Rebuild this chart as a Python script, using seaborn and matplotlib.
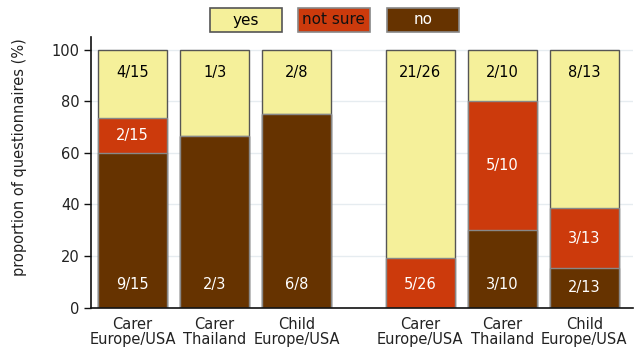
import matplotlib
matplotlib.use("Agg")
import matplotlib.pyplot as plt
import seaborn as sns
import pandas as pd
import numpy as np

groups = ["Carer\nEurope/USA", "Carer\nThailand", "Child\nEurope/USA",
          "Carer\nEurope/USA", "Carer\nThailand", "Child\nEurope/USA"]
positions = [0, 1, 2, 3.5, 4.5, 5.5]
yes_n = [4, 1, 2, 21, 2, 8]
notsure_n = [2, 0, 0, 5, 5, 3]
no_n = [9, 2, 6, 0, 3, 2]
totals = [15, 3, 8, 26, 10, 13]
legend_labels = ["yes", "not sure", "no"]

c_yes = "#F5F09A"
c_ns = "#CC3A0C"
c_no = "#663300"

sns.set_theme(style="white")
plt.rcParams['font.family'] = ['DejaVu Sans']

yes_p = np.array(yes_n) / np.array(totals) * 100
ns_p = np.array(notsure_n) / np.array(totals) * 100
no_p = np.array(no_n) / np.array(totals) * 100

df = pd.DataFrame({"pos": positions,
                   "top": yes_p + ns_p + no_p,
                   "mid": ns_p + no_p,
                   "low": no_p})

fig = plt.figure(figsize=(6.36, 3.51), dpi=100)
ax = fig.add_axes([0.143, 0.1234, 0.852, 0.772])

for col, color, ec in [("top", c_yes, "#555555"), ("mid", c_ns, "#888888"), ("low", c_no, "#888888")]:
    sns.barplot(data=df, x="pos", y=col, native_scale=True, color=color,
                saturation=1, width=0.84, edgecolor=ec, linewidth=1.0, ax=ax)

fs = 10.5
for i, p in enumerate(positions):
    if yes_n[i] > 0:
        ax.text(p, 91, f"{yes_n[i]}/{totals[i]}", ha="center", va="center", color="black", fontsize=fs)
    if notsure_n[i] > 0:
        if no_n[i] > 0:
            y = no_p[i] + ns_p[i] / 2
        else:
            y = min(9, ns_p[i] / 2)
        ax.text(p, y, f"{notsure_n[i]}/{totals[i]}", ha="center", va="center", color="white", fontsize=fs)
    if no_n[i] > 0:
        y = min(9, no_p[i] / 2)
        ax.text(p, y, f"{no_n[i]}/{totals[i]}", ha="center", va="center", color="white", fontsize=fs)

ax.set_xlim(-0.506, 6.09)
ax.set_ylim(0, 105)
ax.set_xticks(positions)
ax.set_xticklabels(groups, fontsize=fs, color="#222222", linespacing=1.05)
ax.set_yticks([0, 20, 40, 60, 80, 100])
ax.set_yticklabels(["0", "20", "40", "60", "80", "100"], fontsize=fs, color="#222222")
ax.set_xlabel("")
ax.set_ylabel("proportion of questionnaires (%)", fontsize=fs, color="#222222")
ax.yaxis.set_label_coords(-0.118, 0.556)
ax.yaxis.grid(True, color="#E6ECF0", linewidth=1)
ax.set_axisbelow(True)
for s in ["top", "right"]:
    ax.spines[s].set_visible(False)
for s in ["left", "bottom"]:
    ax.spines[s].set_color("#111111")
    ax.spines[s].set_linewidth(1.2)
ax.tick_params(axis="y", left=True, length=5, width=1, color="#111111", pad=3)
ax.tick_params(axis="x", bottom=False, pad=0.5)

# legend boxes
leg_x = [246 / 636, 334 / 636, 423 / 636]
leg_w = 72
legend_colors = [(c_yes, "black", "#555555"), (c_ns, "#111111", "#888888"), (c_no, "white", "#888888")]
for lx, lab, (fc, tc, ec) in zip(leg_x, legend_labels, legend_colors):
    t = fig.text(lx, 1 - 20 / 351, lab, ha="center", va="center", fontsize=11, color=tc)
    rect = plt.Rectangle(((lx * 636 - leg_w / 2) / 636, 1 - 32 / 351), leg_w / 636, 24 / 351,
                         transform=fig.transFigure, facecolor=fc, edgecolor=ec, linewidth=1.2, zorder=0)
    fig.patches.append(rect)

fig.savefig("out.png", dpi=100)
